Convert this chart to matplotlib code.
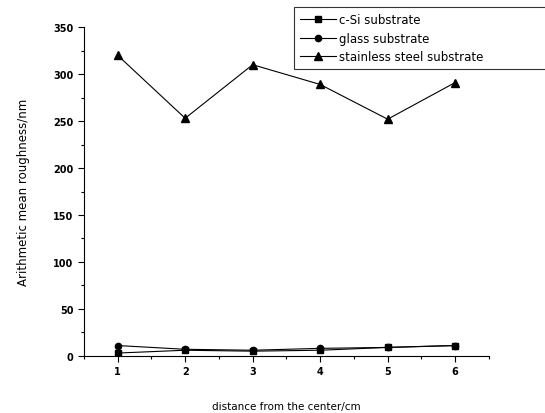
import matplotlib.pyplot as plt
from matplotlib.ticker import MultipleLocator

distance = [1, 2, 3, 4, 5, 6]
c_si = [3, 6, 5, 6, 9, 11]
glass = [11, 7, 6, 8, 9, 11]
steel = [320, 253, 310, 289, 252, 291]

fig = plt.figure(figsize=(5.45, 4.14), dpi=100)
ax = fig.add_axes([0.154, 0.138, 0.743, 0.794])

ax.plot(distance, c_si, '-s', color='black', lw=0.8, ms=4, label='c-Si substrate')
ax.plot(distance, glass, '-o', color='black', lw=0.8, ms=4.5, label='glass substrate')
ax.plot(distance, steel, '-^', color='black', lw=0.8, ms=5.5, label='stainless steel substrate')

ax.set_xlim(0.5, 6.5)
ax.set_ylim(0, 350)
ax.xaxis.set_major_locator(MultipleLocator(1))
ax.xaxis.set_minor_locator(MultipleLocator(0.5))
ax.yaxis.set_major_locator(MultipleLocator(50))
ax.yaxis.set_minor_locator(MultipleLocator(25))
for s in ['top', 'right']:
    ax.spines[s].set_visible(False)
ax.tick_params(which='both', direction='out', labelsize=7, width=0.8)
ax.tick_params(which='major', length=4)
ax.tick_params(which='minor', length=2.5)
for lab in ax.get_xticklabels() + ax.get_yticklabels():
    lab.set_fontweight('bold')

ax.set_xlabel('distance from the center/cm', fontsize=7.5, labelpad=18)
ax.set_ylabel('Arithmetic mean roughness/nm', fontsize=8.5, labelpad=17)

leg = fig.legend(loc='upper left', bbox_to_anchor=(0.539, 0.83, 0.5, 0.151),
                 mode='expand', fontsize=8.5,
                 frameon=True, fancybox=False, edgecolor='black',
                 handlelength=3.0, handletextpad=0.3, borderpad=0.55,
                 labelspacing=0.45, borderaxespad=0)
leg.get_frame().set_linewidth(0.8)

fig.savefig('out.png', dpi=100)
